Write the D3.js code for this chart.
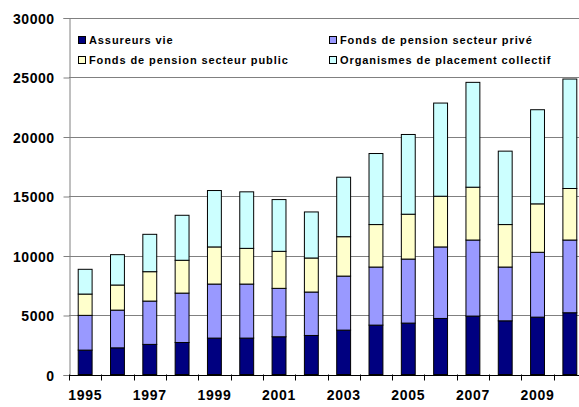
<!DOCTYPE html>
<html>
<head>
<meta charset="utf-8">
<script src="https://cdn.jsdelivr.net/npm/d3@7"></script>
<style>
  body { margin: 0; background: #fff; }
  text { font-family: "Liberation Sans", Arial, sans-serif; font-weight: bold; fill: #000; }
</style>
</head>
<body>
<svg id="chart" width="579" height="407"></svg>
<script>
// values
const years = ['1995','1996','1997','1998','1999','2000','2001','2002','2003','2004','2005','2006','2007','2008','2009','2010']
const seriesNames = ['Assureurs vie', 'Fonds de pension secteur privé', 'Fonds de pension secteur public', 'Organismes de placement collectif']
const assureurs = [2050, 2240, 2530, 2690, 3060, 3060, 3170, 3280, 3730, 4150, 4320, 4710, 4910, 4510, 4820, 5190]
const prive     = [2920, 3170, 3640, 4150, 4540, 4540, 4070, 3650, 4540, 4880, 5380, 6010, 6390, 4520, 5450, 6110]
const public_   = [1790, 2110, 2470, 2760, 3120, 3000, 3110, 2860, 3310, 3570, 3770, 4260, 4440, 3570, 4070, 4330]
const opc       = [2080, 2550, 3140, 3780, 4740, 4750, 4350, 3870, 5000, 5970, 6700, 7830, 8810, 6170, 7910, 9200]
const yTicks = [0, 5000, 10000, 15000, 20000, 25000, 30000]
const colors = ['#000080', '#9999FF', '#FFFFCC', '#CCFFFF']

const allSeries = [assureurs, prive, public_, opc]
const table = years.map((yr, i) => {
  let row = { year: yr }
  seriesNames.forEach((s, j) => { row[s] = allSeries[j][i] })
  return row
})

const svg = d3.select('#chart')
const plotLeft = 69, plotRight = 586, plotTop = 17.5, plotBottom = 374.5

let yScale = d3.scaleLinear().domain([0, 30000]).range([plotBottom, plotTop])
let xScale = d3.scaleBand().domain(years).range([plotLeft, plotRight])
  .paddingInner(0.57).paddingOuter(0.285)

// gridlines
svg.append('g').selectAll('line').data(yTicks.slice(1)).enter()
  .append('line')
  .attr('x1', plotLeft).attr('x2', 579)
  .attr('y1', d => Math.round(yScale(d)) + 0.5)
  .attr('y2', d => Math.round(yScale(d)) + 0.5)
  .style('stroke', '#808080')

// stacked bars
let stacked = d3.stack().keys(seriesNames)(table)
svg.append('g').selectAll('g').data(stacked).enter()
  .append('g')
  .style('fill', (d, i) => colors[i])
  .selectAll('rect').data(d => d).enter()
  .append('rect')
  .attr('x', d => xScale(d.data.year))
  .attr('y', d => yScale(d[1]))
  .attr('width', xScale.bandwidth())
  .attr('height', d => yScale(d[0]) - yScale(d[1]))
  .style('stroke', '#000')
  .style('stroke-width', 1)

// y axis
let yAxis = d3.axisLeft(yScale).tickValues(yTicks).tickFormat(d3.format('d'))
  .tickSize(6).tickPadding(9)
let yG = svg.append('g').attr('transform', `translate(${plotLeft + 0.5}, 0.5)`).call(yAxis)
yG.select('.domain').style('stroke', '#808080')
yG.selectAll('line').style('stroke', '#808080')
yG.selectAll('text')
  .style('font-size', '14px').style('letter-spacing', '0.5px')
  .style('font-family', '"Liberation Sans", Arial, sans-serif').style('font-weight', 'bold')
  .attr('dy', '0.36em')

// x axis line + ticks at category boundaries
let step = xScale.step()
let boundaries = d3.range(years.length + 1).map(i => xScale(years[0]) - step * 0.285 + i * step)
svg.append('line')
  .attr('x1', plotLeft).attr('x2', 579)
  .attr('y1', Math.round(plotBottom) + 0.5).attr('y2', Math.round(plotBottom) + 0.5)
  .style('stroke', '#000')
svg.append('g').selectAll('line').data(boundaries).enter()
  .append('line')
  .attr('x1', d => Math.round(d) + 0.5).attr('x2', d => Math.round(d) + 0.5)
  .attr('y1', plotBottom).attr('y2', plotBottom + 6)
  .style('stroke', '#000')

svg.append('g').selectAll('text').data(years.filter((d, i) => i % 2 === 0)).enter()
  .append('text')
  .attr('x', d => xScale(d) + xScale.bandwidth() / 2)
  .attr('y', 400)
  .attr('text-anchor', 'middle')
  .style('font-size', '14px').style('letter-spacing', '0.7px')
  .text(d => d)

// legend
let legendPos = [[78, 44], [329, 44], [78, 64], [329, 64]]
let legend = svg.append('g').selectAll('g').data(seriesNames).enter()
  .append('g')
  .attr('transform', (d, i) => `translate(${legendPos[i][0]}, ${legendPos[i][1]})`)
legend.append('rect')
  .attr('x', 0.5).attr('y', -7.5).attr('width', 7).attr('height', 7)
  .style('fill', (d, i) => colors[i]).style('stroke', '#000')
legend.append('text')
  .attr('x', 11).attr('y', 0)
  .style('font-size', '11px').style('letter-spacing', '0.9px')
  .text(d => d)
</script>
</body>
</html>
